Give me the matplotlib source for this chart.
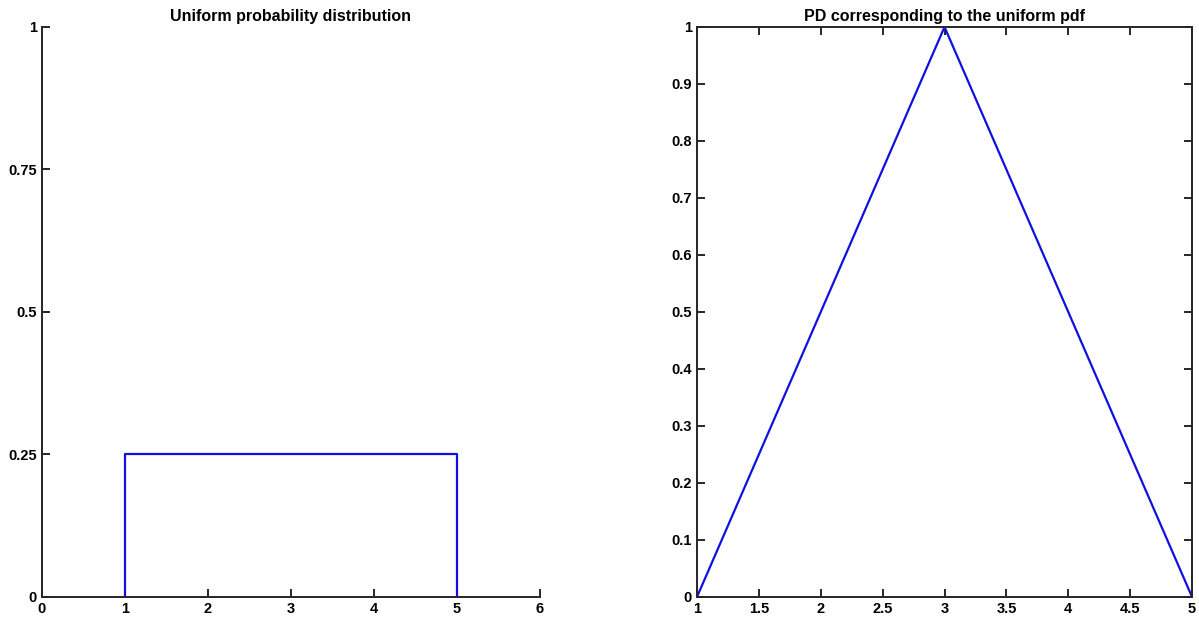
import matplotlib
matplotlib.use("Agg")
import matplotlib.pyplot as plt

plt.rcParams["font.family"] = ["Liberation Sans", "DejaVu Sans"]
plt.rcParams["font.weight"] = "bold"

# left panel: uniform pdf on [1, 5]
pdf_x = [1, 1, 5, 5]
pdf_y = [0, 0.25, 0.25, 0]
pdf_xticks = [0, 1, 2, 3, 4, 5, 6]
pdf_yticks = [0, 0.25, 0.5, 0.75, 1]
pdf_yticklabels = ["0", "0.25", "0.5", "0.75", "1"]

# right panel: triangular PD
pd_x = [1, 3, 5]
pd_y = [0, 1, 0]
pd_xticks = [1, 1.5, 2, 2.5, 3, 3.5, 4, 4.5, 5]
pd_xticklabels = ["1", "1.5", "2", "2.5", "3", "3.5", "4", "4.5", "5"]
pd_yticks = [0, 0.1, 0.2, 0.3, 0.4, 0.5, 0.6, 0.7, 0.8, 0.9, 1]
pd_yticklabels = ["0", "0.1", "0.2", "0.3", "0.4", "0.5", "0.6", "0.7", "0.8", "0.9", "1"]

fig = plt.figure(figsize=(11.99, 6.24), dpi=100)
ax1 = fig.add_axes([0.035, 0.0433, 0.4154, 0.9135])
ax2 = fig.add_axes([0.5813, 0.0433, 0.4129, 0.9135])

line_kw = dict(color="#1010e0", linewidth=1.6)

ax1.plot(pdf_x, pdf_y, **line_kw)
ax1.set_xlim(0, 6)
ax1.set_ylim(0, 1)
ax1.set_xticks(pdf_xticks)
ax1.set_yticks(pdf_yticks)
ax1.set_yticklabels(pdf_yticklabels)
ax1.spines["top"].set_visible(False)
ax1.spines["right"].set_visible(False)
ax1.set_title("Uniform probability distribution", fontsize=11.5, fontweight="bold", pad=4)

ax2.plot(pd_x, pd_y, **line_kw)
ax2.set_xlim(1, 5)
ax2.set_ylim(0, 1)
ax2.set_xticks(pd_xticks)
ax2.set_xticklabels(pd_xticklabels)
ax2.set_yticks(pd_yticks)
ax2.set_yticklabels(pd_yticklabels)
ax2.tick_params(top=True, right=True)
ax2.set_title("PD corresponding to the uniform pdf", fontsize=11.5, fontweight="bold", pad=4)

for ax in (ax1, ax2):
    for sp in ax.spines.values():
        sp.set_linewidth(1.4)
        sp.set_color("#262626")
    ax.tick_params(direction="in", length=5.5, width=1.4, labelsize=10.5, pad=3.5, colors="#262626")
    for lbl in ax.get_xticklabels() + ax.get_yticklabels():
        lbl.set_fontweight("bold")
        lbl.set_color("black")

fig.savefig("out.png", dpi=100, facecolor="white")
